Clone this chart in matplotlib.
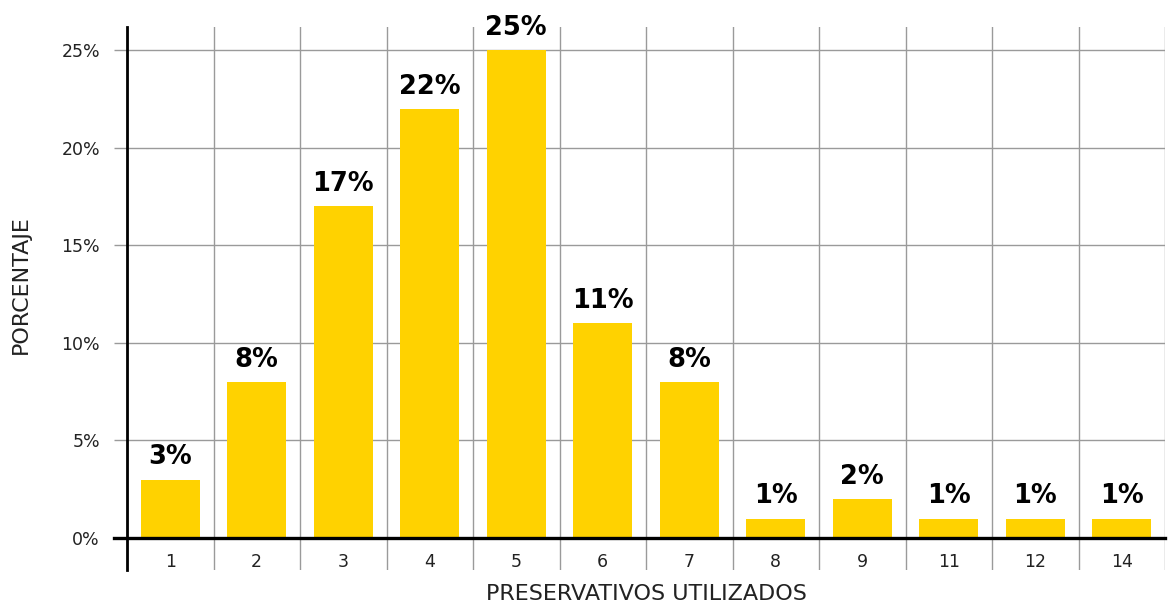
import matplotlib.pyplot as plt
from matplotlib.lines import Line2D
import matplotlib.transforms as mtransforms

plt.rcParams['font.family'] = ['DejaVu Sans']

# Chart data
categories = ["1", "2", "3", "4", "5", "6", "7", "8", "9", "11", "12", "14"]
percentages = [3, 8, 17, 22, 25, 11, 8, 1, 2, 1, 1, 1]
yticks = [0, 5, 10, 15, 20, 25]

BAR_COLOR = "#FFD200"
GRID_COLOR = "#9a9a9a"
TEXT_COLOR = "#222222"

fig = plt.figure(figsize=(11.68, 6.04), dpi=100)
W, H = 1168, 604
ax = fig.add_axes([127 / W, 1 - 570 / H, (1165 - 127) / W, (570 - 27) / H])

x = list(range(len(categories)))
ax.bar(x, percentages, width=0.68, color=BAR_COLOR, zorder=2)

ax.set_xlim(-0.5, len(categories) - 0.5)
ax.set_ylim(-1.64, 26.2)

# horizontal grid with tick stubs to the left of the spine
ax.set_yticks(yticks)
ax.set_yticklabels([f"{v}%" for v in yticks], fontsize=12.5, color=TEXT_COLOR)
ax.tick_params(axis="y", length=9.5, width=1, color=GRID_COLOR, pad=10)
ax.yaxis.grid(True, color=GRID_COLOR, linewidth=1, zorder=0)

# vertical grid at category boundaries
ax.set_xticks([i - 0.5 for i in range(len(categories) + 1)])
ax.set_xticklabels([])
ax.tick_params(axis="x", length=0)
ax.xaxis.grid(True, color=GRID_COLOR, linewidth=1, zorder=0)
ax.set_axisbelow(True)

for side in ["top", "right", "bottom"]:
    ax.spines[side].set_visible(False)
ax.spines["left"].set_linewidth(2)
ax.spines["left"].set_color("black")
ax.spines["left"].set_zorder(4)

# zero baseline extending past the spine
trans = mtransforms.blended_transform_factory(ax.transAxes, ax.transData)
ax.add_line(Line2D([-13 / 1038, 1], [0, 0], transform=trans, color="black",
                   linewidth=2.4, clip_on=False, zorder=4))

# category labels inside axes below baseline
for xi, lab in zip(x, categories):
    ax.text(xi, -1.25, lab, ha="center", va="center", fontsize=12.5, color=TEXT_COLOR)

# value labels
for xi, v in zip(x, percentages):
    ax.annotate(f"{v}%", (xi, v), xytext=(0, 6.5), textcoords="offset points",
                ha="center", va="bottom", fontsize=18.5, fontweight="bold",
                color="black", zorder=5)

fig.text(646 / W, 1 - 594 / H, "PRESERVATIVOS UTILIZADOS", ha="center",
         va="center", fontsize=16, color=TEXT_COLOR)
fig.text(21 / W, 1 - 285 / H, "PORCENTAJE", ha="center", va="center",
         rotation=90, fontsize=16, color=TEXT_COLOR)

fig.savefig("out.png", dpi=100)
